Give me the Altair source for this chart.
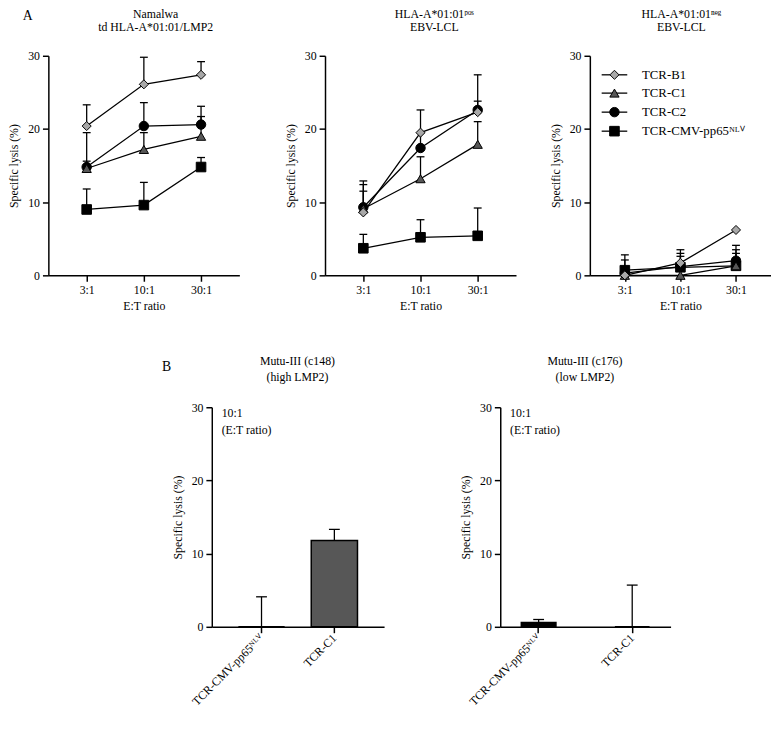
import altair as alt
import pandas as pd

FONT = "Liberation Serif"

# ---------------- data ----------------
ratios = ["3:1", "10:1", "30:1"]
series_names = ["TCR-B1", "TCR-C1", "TCR-C2", "TCR-CMV-pp65ᴺᴸⱽ"]
series_shapes = ["diamond", "triangle-up", "circle", "square"]
series_fills = ["#a8a8a8", "#575757", "#000000", "#000000"]
series_sizes = [85, 95, 110, 90]

# Panel A1: Namalwa td HLA-A*01:01/LMP2  (mean, upper end of error bar)
nam_b1 = [20.4, 26.1, 27.4]
nam_b1_up = [23.3, 29.8, 29.2]
nam_c1 = [14.6, 17.2, 19.0]
nam_c1_up = [19.5, 19.5, 21.7]
nam_c2 = [14.8, 20.4, 20.6]
nam_c2_up = [15.6, 23.6, 23.1]
nam_cmv = [9.0, 9.6, 14.8]
nam_cmv_up = [11.8, 12.7, 16.1]

# Panel A2: HLA-A*01:01 pos EBV-LCL
pos_b1 = [8.6, 19.5, 22.3]
pos_b1_up = [11.5, 22.6, 23.8]
pos_c1 = [9.1, 13.2, 17.9]
pos_c1_up = [12.4, 16.2, 21.0]
pos_c2 = [9.3, 17.4, 22.6]
pos_c2_up = [12.9, 19.5, 27.4]
pos_cmv = [3.7, 5.2, 5.4]
pos_cmv_up = [5.6, 7.6, 9.2]

# Panel A3: HLA-A*01:01 neg EBV-LCL
neg_b1 = [0.0, 1.7, 6.2]
neg_b1_up = [None, 3.5, None]
neg_c1 = [0.0, 0.0, 1.3]
neg_c1_up = [None, None, 3.0]
neg_c2 = [0.3, 1.2, 2.0]
neg_c2_up = [2.8, 3.0, 4.1]
neg_cmv = [0.7, 1.1, 1.3]
neg_cmv_up = [2.1, 2.6, 3.5]

# Panel B (10:1 E:T ratio)
b_targets = ["TCR-CMV-pp65ᴺᴸⱽ", "TCR-C1"]
b_fills = ["#000000", "#575757"]
c148_vals = [0.0, 11.8]
c148_up = [4.1, 13.3]
c176_vals = [0.6, 0.0]
c176_up = [1.0, 5.7]

legend_rows = [27.4, 24.9, 22.3, 19.7]

# ---------------- helpers ----------------
yscale = alt.Scale(domain=[0, 30], nice=False)
yax = alt.Axis(title="Specific lysis (%)", values=[0, 10, 20, 30], tickSize=6,
               labelPadding=3, titlePadding=7, grid=False)


def text_layer(txt, x, y, size=12, align="center"):
    return alt.Chart(pd.DataFrame({"t": [txt]})).mark_text(
        align=align, baseline="middle", fontSize=size, font=FONT, color="black").encode(
        x=alt.value(x), y=alt.value(y), text="t:N")


def title_layers(lines, cx, y1, y2):
    return [text_layer(lines[0], cx, y1), text_layer(lines[1], cx, y2)]


def a_panel(vals, ups, width, pad, title, cx, legend=False, letter=None):
    rows = []
    for si in [3, 2, 1, 0]:  # draw order: CMV, C2, C1, B1
        for j, r in enumerate(ratios):
            rows.append({"ratio": r, "series": series_names[si], "idx": j,
                         "value": vals[si][j], "upper": ups[si][j]})
    df = pd.DataFrame(rows)
    err_df = df.dropna(subset=["upper"])

    xax = alt.Axis(title="E:T ratio", labelAngle=0, tickSize=6, labelPadding=3, titlePadding=6)
    x = alt.X("ratio:N", sort=ratios, scale=alt.Scale(type="point", padding=pad), axis=xax)
    y = alt.Y("value:Q", scale=yscale, axis=yax)

    err = alt.Chart(err_df).mark_rule(color="black", strokeWidth=1.3).encode(
        x=x, y=y, y2="upper:Q")
    cap = alt.Chart(err_df).mark_tick(color="black", thickness=1.3, size=8,
                                      orient="horizontal", opacity=1).encode(
        x=x, y=alt.Y("upper:Q", scale=yscale, axis=yax))
    line = alt.Chart(df).mark_line(color="black", strokeWidth=1.3).encode(
        x=x, y=y, detail="series:N", order="idx:Q")
    shape = alt.Shape("series:N", scale=alt.Scale(domain=series_names, range=series_shapes), legend=None)
    fill = alt.Fill("series:N", scale=alt.Scale(domain=series_names, range=series_fills), legend=None)
    size = alt.Size("series:N", scale=alt.Scale(domain=series_names, range=series_sizes), legend=None)
    pts = alt.Chart(df).mark_point(filled=True, stroke="black", strokeWidth=1, opacity=1).encode(
        x=x, y=y, shape=shape, fill=fill, size=size)
    layers = [err, cap, line, pts]
    if legend:
        ldf = pd.DataFrame({"series": series_names, "ly": legend_rows})
        ly = alt.Y("ly:Q", scale=yscale, axis=yax)
        layers += [
            alt.Chart(ldf).mark_rule(color="black", strokeWidth=1.3).encode(
                x=alt.value(12), x2=alt.value(38), y=ly),
            alt.Chart(ldf).mark_point(filled=True, stroke="black", strokeWidth=1, opacity=1).encode(
                x=alt.value(25), y=ly, shape=shape, fill=fill, size=size),
            alt.Chart(ldf).mark_text(align="left", baseline="middle", fontSize=13, font=FONT,
                                     color="black").encode(
                x=alt.value(53), y=ly, text="series:N"),
        ]
    layers += title_layers(title, cx, -42, -29)
    if letter:
        layers.append(text_layer(letter, -21, -40, size=14))
    return alt.layer(*layers).properties(width=width, height=223)


def b_panel(vals, ups, width, pin, pout, title, cx, letter=None):
    df = pd.DataFrame({"target": b_targets, "value": vals, "upper": ups})
    xax = alt.Axis(title=None, labelAngle=-45, labelAlign="right", labelBaseline="middle",
                   tickSize=6, labelPadding=3)
    x = alt.X("target:N", sort=b_targets,
              scale=alt.Scale(type="band", paddingInner=pin, paddingOuter=pout), axis=xax)
    y = alt.Y("value:Q", scale=yscale, axis=yax)
    bars = alt.Chart(df).mark_bar(stroke="black", strokeWidth=1.5).encode(
        x=x, y=y,
        fill=alt.Fill("target:N", scale=alt.Scale(domain=b_targets, range=b_fills), legend=None))
    err = alt.Chart(df).mark_rule(color="black", strokeWidth=1.3).encode(x=x, y=y, y2="upper:Q")
    cap = alt.Chart(df).mark_tick(color="black", thickness=1.3, size=11,
                                  orient="horizontal", opacity=1).encode(
        x=x, y=alt.Y("upper:Q", scale=yscale, axis=yax))
    layers = [bars, err, cap,
              text_layer("10:1", 10, 6, align="left"),
              text_layer("(E:T ratio)", 10, 23, align="left")]
    layers += title_layers(title, cx, -47, -31)
    if letter:
        layers.append(text_layer(letter, -46, -41, size=14))
    return alt.layer(*layers).properties(width=width, height=223)


a1 = a_panel([nam_b1, nam_c1, nam_c2, nam_cmv], [nam_b1_up, nam_c1_up, nam_c2_up, nam_cmv_up],
             194, 0.67, ["Namalwa", "td HLA-A*01:01/LMP2"], 109, letter="A")
a2 = a_panel([pos_b1, pos_c1, pos_c2, pos_cmv], [pos_b1_up, pos_c1_up, pos_c2_up, pos_cmv_up],
             194, 0.67, ["HLA-A*01:01ᵖᵒˢ", "EBV-LCL"], 111)
a3 = a_panel([neg_b1, neg_c1, neg_c2, neg_cmv], [neg_b1_up, neg_c1_up, neg_c2_up, neg_cmv_up],
             184, 0.63, ["HLA-A*01:01ⁿᵉᵍ", "EBV-LCL"], 93, legend=True)

b1 = b_panel(c148_vals, c148_up, 175, 0.365, 0.365, ["Mutu-III (c148)", "(high LMP2)"], 87, letter="B")
b2 = b_panel(c176_vals, c176_up, 173, 0.63, 0.225, ["Mutu-III (c176)", "(low LMP2)"], 86)

spacer = alt.Chart(pd.DataFrame({"t": [""]})).mark_text().encode(text="t:N").properties(
    width=100, height=10)

row_a = alt.hconcat(alt.hconcat(a1, a2, spacing=46), a3, spacing=34)
row_b = alt.hconcat(spacer, alt.hconcat(b1, b2, spacing=77), spacing=15)

chart = alt.vconcat(row_a, row_b, spacing=44).properties(
    padding={"left": 0, "top": -5, "right": 0, "bottom": 0}
).configure_view(stroke=None).configure_axis(
    domainColor="black", tickColor="black", labelColor="black", titleColor="black",
    labelFont=FONT, titleFont=FONT, labelFontSize=12, titleFontSize=12,
    titleFontWeight="normal", domainWidth=1.5, tickWidth=1.5, grid=False
)

chart.save("out.html", embed_options={"renderer": "svg", "actions": False})
